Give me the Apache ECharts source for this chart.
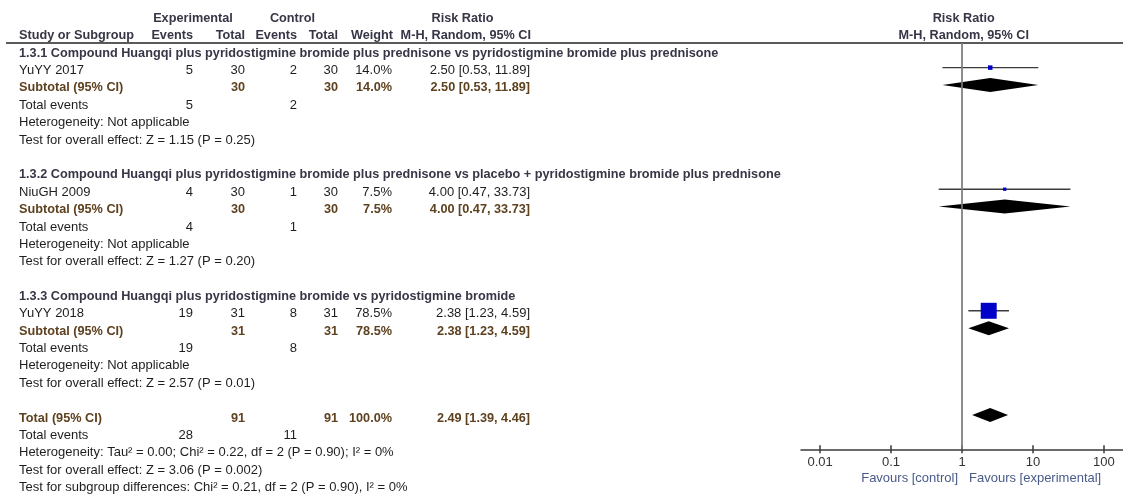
<!DOCTYPE html>
<html>
<head>
<meta charset="utf-8">
<script src="https://cdn.jsdelivr.net/npm/echarts@6/dist/echarts.min.js"></script>
<style>
  html, body { margin: 0; padding: 0; background: #fff; }
  #chart { width: 1123px; height: 494px; }
</style>
</head>
<body>
<div id="chart"></div>
<script>
// ---- Study data ----
const studies    = ['YuYY 2017', 'NiuGH 2009', 'YuYY 2018'];
const expEvents  = [5, 4, 19];
const expTotal   = [30, 30, 31];
const ctlEvents  = [2, 1, 8];
const ctlTotal   = [30, 30, 31];
const weights    = [14.0, 7.5, 78.5];
const rr         = [2.50, 4.00, 2.38];
const rrLow      = [0.53, 0.47, 1.23];
const rrHigh     = [11.89, 33.73, 4.59];

// ---- Subgroups (one study each) ----
const subgroupTitles = [
  '1.3.1 Compound Huangqi plus pyridostigmine bromide plus prednisone vs pyridostigmine bromide plus prednisone',
  '1.3.2 Compound Huangqi plus pyridostigmine bromide plus prednisone vs placebo + pyridostigmine bromide plus prednisone',
  '1.3.3 Compound Huangqi plus pyridostigmine bromide vs pyridostigmine bromide'
];
const subExpTotal   = [30, 30, 31];
const subCtlTotal   = [30, 30, 31];
const subExpEvents  = [5, 4, 19];
const subCtlEvents  = [2, 1, 8];
const subWeight     = [14.0, 7.5, 78.5];
const subRR         = [2.50, 4.00, 2.38];
const subLow        = [0.53, 0.47, 1.23];
const subHigh       = [11.89, 33.73, 4.59];
const subHet        = ['Heterogeneity: Not applicable', 'Heterogeneity: Not applicable', 'Heterogeneity: Not applicable'];
const subTest       = [
  'Test for overall effect: Z = 1.15 (P = 0.25)',
  'Test for overall effect: Z = 1.27 (P = 0.20)',
  'Test for overall effect: Z = 2.57 (P = 0.01)'
];

// ---- Pooled result ----
const totalExp       = [91];
const totalCtl       = [91];
const totalExpEvents = [28];
const totalCtlEvents = [11];
const totalWeight    = [100.0];
const totalRR        = [2.49];
const totalLow       = [1.39];
const totalHigh      = [4.46];
const totalHet  = 'Heterogeneity: Tau\u00b2 = 0.00; Chi\u00b2 = 0.22, df = 2 (P = 0.90); I\u00b2 = 0%';
const totalTest = 'Test for overall effect: Z = 3.06 (P = 0.002)';
const diffTest  = 'Test for subgroup differences: Chi\u00b2 = 0.21, df = 2 (P = 0.90), I\u00b2 = 0%';

// ---- Axis ----
const tickValues = [0.01, 0.1, 1, 10, 100];
const tickLabels = ['0.01', '0.1', '1', '10', '100'];
const favourLeft  = 'Favours [control]';
const favourRight = 'Favours [experimental]';

// ---- Layout ----
const FONT = '"Liberation Sans", Arial, Helvetica, sans-serif';
const ROW_TOP = 18.5, ROW_H = 17.37;
const AXIS_Y = 449.3, RULE_Y = 43;
const MARK_SHIFT = 3 / ROW_H;           // marks sit slightly above the text centre line
const PLOT_LEFT = 801, PLOT_WIDTH = 325.4;
const LOG_SPAN = 2.269;
const row = k => ROW_TOP + k * ROW_H;
const yMax = (AXIS_Y - ROW_TOP) / ROW_H;

const COL = { name: 19, expEv: 193, expTot: 245, ctlEv: 297, ctlTot: 338, weight: 392, ci: 530 };
const C_TEXT = '#1e1e1e', C_HEAD = '#363646', C_SUB = '#5e4220', C_FAV = '#4a5a8a';

const fmtCI = (m, l, h) => `${m.toFixed(2)} [${l.toFixed(2)}, ${h.toFixed(2)}]`;
const fmtW = w => w.toFixed(1) + '%';

function txt(x, y, s, align, color, bold, size) {
  const fs = size || (bold ? 12.7 : 13);
  return {
    type: 'text', x: x, y: y, silent: true,
    style: {
      text: String(s), fill: color || C_TEXT,
      font: (bold ? 'bold ' : '') + fs + 'px ' + FONT,
      textAlign: align || 'left', align: align || 'left',
      textVerticalAlign: 'middle', verticalAlign: 'middle'
    }
  };
}

const g = [];
// column headers
g.push(txt(193, row(0), 'Experimental', 'center', C_HEAD, true));
g.push(txt(292.5, row(0), 'Control', 'center', C_HEAD, true));
g.push(txt(462.5, row(0), 'Risk Ratio', 'center', C_HEAD, true));
g.push(txt(963.7, row(0), 'Risk Ratio', 'center', C_HEAD, true));
g.push(txt(COL.name, row(1), 'Study or Subgroup', 'left', C_HEAD, true));
g.push(txt(COL.expEv, row(1), 'Events', 'right', C_HEAD, true));
g.push(txt(COL.expTot, row(1), 'Total', 'right', C_HEAD, true));
g.push(txt(COL.ctlEv, row(1), 'Events', 'right', C_HEAD, true));
g.push(txt(COL.ctlTot, row(1), 'Total', 'right', C_HEAD, true));
g.push(txt(COL.weight + 1, row(1), 'Weight', 'right', C_HEAD, true));
g.push(txt(COL.ci + 1, row(1), 'M-H, Random, 95% CI', 'right', C_HEAD, true));
g.push(txt(963.7, row(1), 'M-H, Random, 95% CI', 'center', C_HEAD, true));
g.push({
  type: 'line', silent: true,
  shape: { x1: 6, y1: RULE_Y, x2: 1123, y2: RULE_Y },
  style: { stroke: '#5a5a5a', lineWidth: 2 }
});

const studyRows = [], subRows = [];
subgroupTitles.forEach((title, i) => {
  const k0 = 2 + i * 7;
  studyRows.push(k0 + 1);
  subRows.push(k0 + 2);
  g.push(txt(COL.name, row(k0), title, 'left', C_HEAD, true));
  // study line
  g.push(txt(COL.name, row(k0 + 1), studies[i]));
  g.push(txt(COL.expEv, row(k0 + 1), expEvents[i], 'right'));
  g.push(txt(COL.expTot, row(k0 + 1), expTotal[i], 'right'));
  g.push(txt(COL.ctlEv, row(k0 + 1), ctlEvents[i], 'right'));
  g.push(txt(COL.ctlTot, row(k0 + 1), ctlTotal[i], 'right'));
  g.push(txt(COL.weight, row(k0 + 1), fmtW(weights[i]), 'right'));
  g.push(txt(COL.ci, row(k0 + 1), fmtCI(rr[i], rrLow[i], rrHigh[i]), 'right'));
  // subtotal line
  g.push(txt(COL.name, row(k0 + 2), 'Subtotal (95% CI)', 'left', C_SUB, true));
  g.push(txt(COL.expTot, row(k0 + 2), subExpTotal[i], 'right', C_SUB, true));
  g.push(txt(COL.ctlTot, row(k0 + 2), subCtlTotal[i], 'right', C_SUB, true));
  g.push(txt(COL.weight, row(k0 + 2), fmtW(subWeight[i]), 'right', C_SUB, true));
  g.push(txt(COL.ci, row(k0 + 2), fmtCI(subRR[i], subLow[i], subHigh[i]), 'right', C_SUB, true));
  // summary lines
  g.push(txt(COL.name, row(k0 + 3), 'Total events'));
  g.push(txt(COL.expEv, row(k0 + 3), subExpEvents[i], 'right'));
  g.push(txt(COL.ctlEv, row(k0 + 3), subCtlEvents[i], 'right'));
  g.push(txt(COL.name, row(k0 + 4), subHet[i]));
  g.push(txt(COL.name, row(k0 + 5), subTest[i]));
});

// pooled block
const kT = 23;
g.push(txt(COL.name, row(kT), 'Total (95% CI)', 'left', C_SUB, true));
g.push(txt(COL.expTot, row(kT), totalExp[0], 'right', C_SUB, true));
g.push(txt(COL.ctlTot, row(kT), totalCtl[0], 'right', C_SUB, true));
g.push(txt(COL.weight, row(kT), fmtW(totalWeight[0]), 'right', C_SUB, true));
g.push(txt(COL.ci, row(kT), fmtCI(totalRR[0], totalLow[0], totalHigh[0]), 'right', C_SUB, true));
g.push(txt(COL.name, row(kT + 1), 'Total events'));
g.push(txt(COL.expEv, row(kT + 1), totalExpEvents[0], 'right'));
g.push(txt(COL.ctlEv, row(kT + 1), totalCtlEvents[0], 'right'));
g.push(txt(COL.name, row(kT + 2), totalHet));
g.push(txt(COL.name, row(kT + 3), totalTest));
g.push(txt(COL.name, row(kT + 4), diffTest));

// favours labels under the axis
g.push(txt(958, 478.3, favourLeft, 'right', C_FAV));
g.push(txt(969, 478.3, favourRight, 'left', C_FAV));

// ---- Series data (log10 scale) ----
const L = Math.log10;
const studyData = studies.map((s, i) => [L(rr[i]), L(rrLow[i]), L(rrHigh[i]), studyRows[i] - MARK_SHIFT, weights[i]]);
const diamondData = subRR.map((m, i) => [L(m), L(subLow[i]), L(subHigh[i]), subRows[i] - MARK_SHIFT]);
diamondData.push([L(totalRR[0]), L(totalLow[0]), L(totalHigh[0]), kT - MARK_SHIFT]);

const tickLog = tickValues.map(v => L(v));
const labelFor = v => {
  const i = tickLog.findIndex(t => Math.abs(t - v) < 1e-6);
  return i >= 0 ? tickLabels[i] : '';
};
const TICK_STYLE = { color: '#3a3a3a', width: 1.5 };

const chart = echarts.init(document.getElementById('chart'), null, { renderer: 'canvas' });
chart.setOption({
  animation: false,
  backgroundColor: '#ffffff',
  grid: { left: PLOT_LEFT, top: ROW_TOP, width: PLOT_WIDTH, height: AXIS_Y - ROW_TOP, containLabel: false },
  xAxis: [
    {
      // main log-ratio axis: line, lower tick halves and labels
      type: 'value', min: -LOG_SPAN, max: LOG_SPAN, position: 'bottom',
      splitLine: { show: false },
      axisLine: { show: true, onZero: false, lineStyle: { color: '#3a3a3a', width: 1.5 } },
      axisTick: { show: true, length: 4, customValues: tickLog, lineStyle: TICK_STYLE },
      axisLabel: {
        show: true, customValues: tickLog, margin: 7, formatter: labelFor,
        color: '#333', fontSize: 13, fontFamily: FONT
      }
    },
    {
      // companion axis moved down onto the main one: upper tick halves
      type: 'value', min: -LOG_SPAN, max: LOG_SPAN, position: 'top',
      offset: -(AXIS_Y - ROW_TOP),
      splitLine: { show: false },
      axisLine: { show: false, onZero: false },
      axisTick: { show: true, inside: false, length: 4, customValues: tickLog, lineStyle: TICK_STYLE },
      axisLabel: { show: false }
    }
  ],
  yAxis: { type: 'value', min: 0, max: yMax, inverse: true, show: false },
  series: [
    {
      // line of no effect
      type: 'line', xAxisIndex: 0, symbol: 'none', silent: true,
      lineStyle: { color: '#7a7a7a', width: 1.7 },
      data: [[0, (RULE_Y - ROW_TOP) / ROW_H], [0, yMax]]
    },
    {
      // individual studies: CI whisker + weighted square
      type: 'custom', xAxisIndex: 0, silent: true,
      encode: { x: [0, 1, 2], y: 3 },
      data: studyData,
      renderItem: (params, api) => {
        const y = api.value(3);
        const c = api.coord([api.value(0), y]);
        const lo = api.coord([api.value(1), y]);
        const hi = api.coord([api.value(2), y]);
        const s = 2 + 0.178 * api.value(4);
        return {
          type: 'group',
          children: [
            { type: 'line', shape: { x1: lo[0], y1: c[1], x2: hi[0], y2: c[1] },
              style: { stroke: '#3c3c3c', lineWidth: 1.4 } },
            { type: 'rect', shape: { x: c[0] - s / 2, y: c[1] - s / 2, width: s, height: s },
              style: { fill: '#0000c8' } }
          ]
        };
      }
    },
    {
      // subtotal and overall pooled estimates
      type: 'custom', xAxisIndex: 0, silent: true,
      encode: { x: [0, 1, 2], y: 3 },
      data: diamondData,
      renderItem: (params, api) => {
        const y = api.value(3);
        const c = api.coord([api.value(0), y]);
        const lo = api.coord([api.value(1), y]);
        const hi = api.coord([api.value(2), y]);
        const h = 7;
        return {
          type: 'polygon',
          shape: { points: [[lo[0], c[1]], [c[0], c[1] - h], [hi[0], c[1]], [c[0], c[1] + h]] },
          style: { fill: '#000000' }
        };
      }
    }
  ],
  graphic: { elements: g }
});
</script>
</body>
</html>
